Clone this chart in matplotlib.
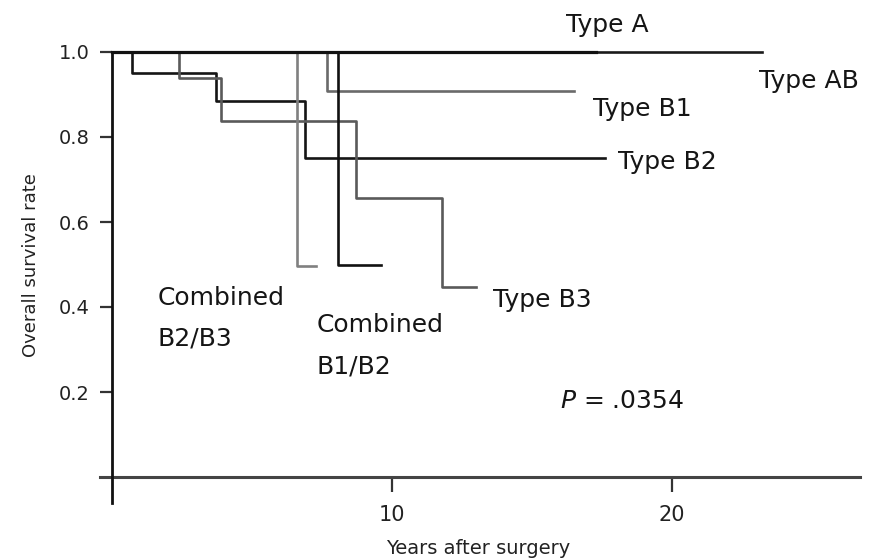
import matplotlib.pyplot as plt

# Kaplan-Meier style step curves (years, survival)
type_a_t = [0, 23.2]
type_a_s = [1.0, 1.0]
type_ab_t = [0, 17.3]
type_ab_s = [1.0, 1.0]
type_b1_t = [0, 7.67, 16.5]
type_b1_s = [1.0, 0.908, 0.908]
type_b2_t = [0, 0.7, 3.7, 6.9, 17.6]
type_b2_s = [1.0, 0.95, 0.885, 0.75, 0.75]
type_b3_t = [0, 2.4, 3.9, 8.7, 11.8, 13.0]
type_b3_s = [1.0, 0.938, 0.838, 0.657, 0.447, 0.447]
comb_b2b3_t = [0, 6.6, 7.3]
comb_b2b3_s = [1.0, 0.497, 0.497]
comb_b1b2_t = [0, 8.06, 9.6]
comb_b1b2_s = [1.0, 0.5, 0.5]

y_ticks = [0.2, 0.4, 0.6, 0.8, 1.0]
x_ticks = [10, 20]

plt.rcParams['font.family'] = 'DejaVu Sans'

fig = plt.figure(figsize=(8.81, 5.59), dpi=100)
# axes box in pixels: x 100..860, y 45..505 (from top)
ax = fig.add_axes([100 / 881, 1 - 505 / 559, 760 / 881, 460 / 559])
ax.set_xlim(-12 / 28, 748 / 28)
ax.set_ylim(-28 / 425, 432 / 425)

lw = 1.9
ax.step(type_b1_t, type_b1_s, where='post', color='#6a6a6a', lw=lw)
ax.step(type_b2_t, type_b2_s, where='post', color='#151515', lw=lw)
ax.step(type_b3_t, type_b3_s, where='post', color='#5a5a5a', lw=lw)
ax.step(comb_b2b3_t, comb_b2b3_s, where='post', color='#808080', lw=lw)
ax.step(comb_b1b2_t, comb_b1b2_s, where='post', color='#111111', lw=lw)
ax.step(type_a_t, type_a_s, where='post', color='#1a1a1a', lw=lw)
ax.step(type_ab_t, type_ab_s, where='post', color='#111111', lw=lw + 0.4)

# crossed axes through the origin
for s in ['top', 'right']:
    ax.spines[s].set_visible(False)
ax.spines['left'].set_position(('data', 0))
ax.spines['bottom'].set_position(('data', 0))
ax.spines['left'].set_bounds(-0.06, 1.0)
ax.spines['left'].set_linewidth(2.0)
ax.spines['left'].set_color('#111111')
ax.spines['bottom'].set_linewidth(2.2)
ax.spines['bottom'].set_color('#444444')
ax.spines['left'].set_zorder(5)

ax.set_yticks(y_ticks)
ax.set_yticklabels([f'{v:.1f}' for v in y_ticks])
ax.set_xticks(x_ticks)
ax.set_xticklabels([str(v) for v in x_ticks])
ax.tick_params(axis='y', direction='out', length=9, width=1.6, pad=7,
               labelsize=14, colors='#333333', labelcolor='#222222')
ax.tick_params(axis='x', direction='out', length=11, width=1.6, pad=9,
               labelsize=15, colors='#333333', labelcolor='#222222')

fig.text(478 / 881, 1 - 548 / 559, 'Years after surgery', ha='center',
         va='center', fontsize=14, color='#222222')
fig.text(31 / 881, 1 - 265 / 559, 'Overall survival rate', ha='center',
         va='center', rotation=90, fontsize=13, color='#222222')

fs = 18
txt = dict(fontsize=fs, color='#151515', clip_on=False)
ax.text(17.68, 1.064, 'Type A', ha='center', va='center', **txt)
ax.text(24.9, 0.932, 'Type AB', ha='center', va='center', **txt)
ax.text(17.18, 0.866, 'Type B1', ha='left', va='center', **txt)
ax.text(18.07, 0.741, 'Type B2', ha='left', va='center', **txt)
ax.text(13.6, 0.416, 'Type B3', ha='left', va='center', **txt)
ax.text(1.64, 0.421, 'Combined', ha='left', va='center', **txt)
ax.text(1.64, 0.327, 'B2/B3', ha='left', va='center', **txt)
ax.text(7.32, 0.358, 'Combined', ha='left', va='center', **txt)
ax.text(7.32, 0.261, 'B1/B2', ha='left', va='center', **txt)
ax.text(16.0, 0.179, r'$\it{P}$ = .0354', ha='left', va='center', **txt)

fig.savefig('out.png', dpi=100)
